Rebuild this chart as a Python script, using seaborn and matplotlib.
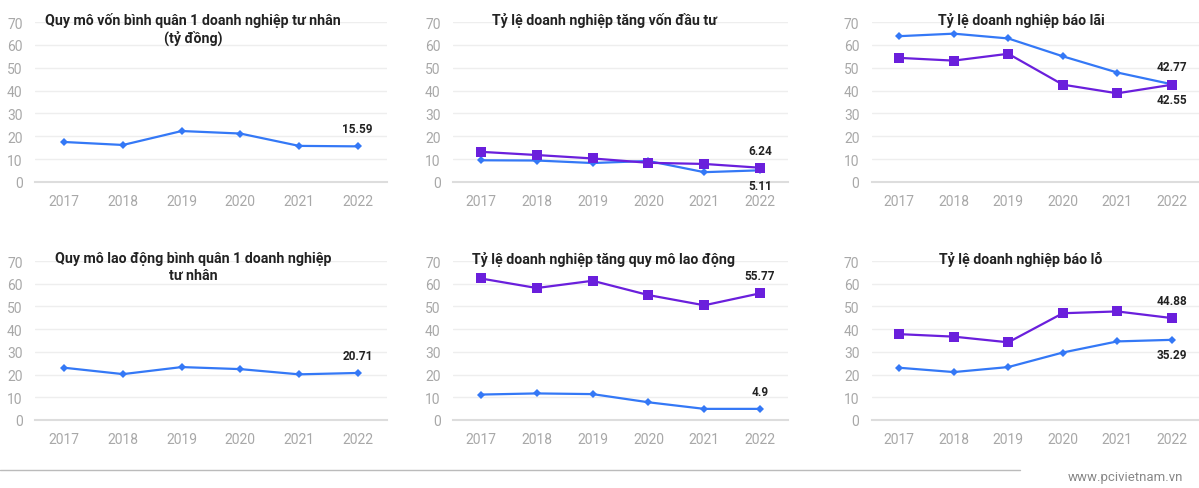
import matplotlib.pyplot as plt
import pandas as pd
import seaborn as sns

YEARS = ["2017", "2018", "2019", "2020", "2021", "2022"]

# panel data (blue = series A, purple = series B)
von_binh_quan = [17.5, 16.2, 22.3, 21.2, 15.8, 15.59]
tang_von_blue = [9.5, 9.4, 8.3, 9.2, 4.3, 5.11]
tang_von_purple = [13.2, 11.8, 10.3, 8.4, 7.9, 6.24]
bao_lai_blue = [63.8, 64.9, 62.8, 55.0, 47.9, 42.77]
bao_lai_purple = [54.3, 53.1, 56.1, 42.6, 38.8, 42.55]
lao_dong_binh_quan = [23.0, 20.2, 23.3, 22.4, 20.1, 20.71]
tang_ld_blue = [11.2, 11.7, 11.4, 7.8, 4.9, 4.9]
tang_ld_purple = [62.3, 58.1, 61.3, 55.0, 50.5, 55.77]
bao_lo_blue = [23.0, 21.1, 23.3, 29.7, 34.6, 35.29]
bao_lo_purple = [37.8, 36.7, 34.2, 47.0, 47.8, 44.88]

TITLES = [
    "Quy mô vốn bình quân 1 doanh nghiệp tư nhân\n(tỷ đồng)",
    "Tỷ lệ doanh nghiệp tăng vốn đầu tư",
    "Tỷ lệ doanh nghiệp báo lãi",
    "Quy mô lao động bình quân 1 doanh nghiệp\ntư nhân",
    "Tỷ lệ doanh nghiệp tăng quy mô lao động",
    "Tỷ lệ doanh nghiệp báo lỗ",
]

BLUE = "#3478f6"
PURPLE = "#6a1fdc"

sns.set_theme(style="white")
plt.rcParams["font.family"] = ["Roboto", "DejaVu Sans"]

fig = plt.figure(figsize=(11.99, 4.89), dpi=100)
W, H = 1199, 489

# (left px, right px, top px, bottom px, title center px, title y px)
boxes = [
    (35, 387, 23, 183, 193, 13),
    (453, 788, 23, 183, 604, 13),
    (872, 1199, 23, 183, 1021, 13),
    (35, 387, 262, 421, 193, 252),
    (453, 788, 262, 421, 604, 252),
    (872, 1199, 262, 421, 1021, 252),
]

# series per panel: (values, color, marker, where the end label goes)
panels = [
    [(von_binh_quan, BLUE, "D", "above")],
    [(tang_von_blue, BLUE, "D", "below"), (tang_von_purple, PURPLE, "s", "above")],
    [(bao_lai_blue, BLUE, "D", "above"), (bao_lai_purple, PURPLE, "s", "below")],
    [(lao_dong_binh_quan, BLUE, "D", "above")],
    [(tang_ld_blue, BLUE, "D", "above"), (tang_ld_purple, PURPLE, "s", "above")],
    [(bao_lo_blue, BLUE, "D", "below"), (bao_lo_purple, PURPLE, "s", "above")],
]

for (l, r, t, b, tc, ty), series, title in zip(boxes, panels, TITLES):
    ax = fig.add_axes([l / W, 1 - b / H, (r - l) / W, (b - t) / H])
    for vals, color, marker, pos in series:
        df = pd.DataFrame({"year": YEARS, "value": vals})
        sns.lineplot(data=df, x="year", y="value", ax=ax, color=color, marker=marker,
                     markersize=4 if marker == "D" else 7, markeredgewidth=0,
                     linewidth=1.6, sort=False)
        last = vals[-1]
        label = f"{last:g}"
        if pos == "above":
            ax.annotate(label, (len(YEARS) - 1, last), xytext=(0, 8), textcoords="offset points",
                        ha="center", va="bottom", fontsize=8.5, fontweight="bold", color="#222222")
        else:
            ax.annotate(label, (len(YEARS) - 1, last), xytext=(0, -6), textcoords="offset points",
                        ha="center", va="top", fontsize=8.5, fontweight="bold", color="#222222")
    ax.set_xlim(-0.5, 5.5)
    ax.set_ylim(0, 70)
    ax.set_yticks(range(0, 71, 10))
    ax.set_xlabel("")
    ax.set_ylabel("")
    ax.grid(axis="y", color="#eeeeee", linewidth=1)
    ax.set_axisbelow(True)
    for side in ["top", "right", "left"]:
        ax.spines[side].set_visible(False)
    ax.spines["bottom"].set_color("#dddddd")
    ax.spines["bottom"].set_linewidth(1.5)
    ax.tick_params(axis="both", length=0, labelsize=10, labelcolor="#a8a8a8")
    ax.tick_params(axis="y", pad=9)
    ax.tick_params(axis="x", pad=9)
    fig.text(tc / W, 1 - ty / H, title, ha="center", va="top", fontsize=10.2,
             fontweight="bold", color="#222222", linespacing=1.25)

# footer rule and source
fig.add_artist(plt.Line2D([0, 1020 / W], [1 - 471 / H, 1 - 471 / H], color="#bbbbbb", linewidth=1))
fig.text(1183 / W, 1 - 478 / H, "www.pcivietnam.vn", ha="right", va="center",
         fontsize=9.5, color="#888888")

fig.savefig("out.png", dpi=100)
